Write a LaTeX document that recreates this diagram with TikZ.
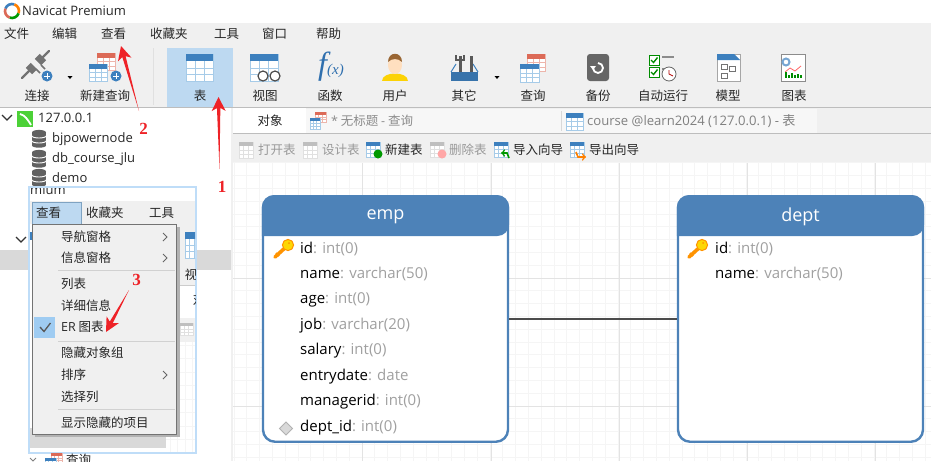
\documentclass[tikz,border=0pt]{standalone}
\usepackage{fontspec}
\setmainfont{Noto Sans CJK SC}
\newfontfamily\latfont{Open Sans}
\newfontfamily\serfont{Liberation Serif}
\usetikzlibrary{calc}

\definecolor{barbg}{HTML}{F0F0F0}
\definecolor{hilite}{HTML}{BDD9F1}
\definecolor{hibox}{HTML}{9FCCF2}
\definecolor{erblue}{HTML}{4D82B8}
\definecolor{tblblue}{HTML}{3D80BE}
\definecolor{tblgrid}{HTML}{A6CBE8}
\definecolor{tblred}{HTML}{DC6A57}
\definecolor{redgrid}{HTML}{EDB5AB}
\definecolor{arrowred}{HTML}{EE2227}
\definecolor{greytxt}{HTML}{A0A0A0}
\definecolor{selband}{HTML}{D9D9D9}
\definecolor{lineg}{HTML}{BDBDBD}
\definecolor{glow}{HTML}{BFDDF8}
\definecolor{mysqlgreen}{HTML}{4CD137}
\definecolor{fxblue}{HTML}{2F6FAE}

\tikzset{
    menutxt/.style={anchor=west, inner sep=0pt, text=black!85, font=\fontsize{12.5}{14}\selectfont},
    tooltxt/.style={anchor=center, inner sep=0pt, text=black!85, font=\fontsize{12.5}{14}\selectfont},
    treetxt/.style={anchor=west, inner sep=0pt, text=black!85, font=\latfont\fontsize{13}{15}\selectfont},
    fieldtxt/.style={anchor=west, inner sep=0pt, text=greytxt, font=\latfont\fontsize{15}{17}\selectfont},
    headtxt/.style={anchor=center, inner sep=0pt, text=white, font=\latfont\fontsize{18}{20}\selectfont},
    erbox/.style={draw=erblue, line width=2.4pt, fill=white, rounded corners=12pt, inner sep=0pt,
        minimum width=245pt, minimum height=245.5pt},
    steplabel/.style={anchor=center, inner sep=0pt, text=arrowred, font=\serfont\bfseries\fontsize{17}{18}\selectfont},
}

% table icon: left, top, width, height, head colour, grid colour
\newcommand{\tblicon}[6]{
    \fill[white] (#1,#2) rectangle ++(#3,#4);
    \draw[#6, line width=.7pt] (#1,#2) rectangle ++(#3,#4);
    \foreach \k in {1,2} {
        \draw[#6, line width=.7pt] ({#1+\k*#3/3},#2) -- ++(0,#4);
        \draw[#6, line width=.7pt] (#1,{#2+#4*.27+\k*#4*.73/3}) -- ++(#3,0);
    }
    \fill[#5] (#1,#2) rectangle ++(#3,{#4*.27});
}
\newcommand{\plusdisc}[3]{
    \fill[#3] (#1,#2) circle (5.5);
    \draw[white, line width=1pt] ({#1-3},#2) -- ({#1+3},#2) ({#1},{#2-3}) -- ({#1},{#2+3});
}
\newcommand{\dbicon}[2]{
    \fill[black!62] (#1,{#2-6.5}) ellipse (7 and 2.6);
    \fill[black!62] ({#1-7},{#2-6.5}) rectangle ({#1+7},{#2+6.5});
    \fill[black!62] (#1,{#2+6.5}) ellipse (7 and 2.2);
    \draw[white, line width=.9pt] ({#1-7},{#2-3}) arc (180:360:7 and -2);
    \draw[white, line width=.9pt] ({#1-7},{#2+2}) arc (180:360:7 and -2);
}
\newcommand{\keyicon}[2]{
    \draw[orange!85!yellow, line width=3.6pt, line cap=round] ({#1+3},{#2-1}) -- ({#1-8},{#2+9});
    \draw[orange!85!yellow, line width=2pt] ({#1-7},{#2+5}) -- ({#1-4},{#2+8});
    \fill[yellow!75!orange, draw=orange!85!yellow, line width=1pt] ({#1+5},{#2-3}) circle (5.6);
    \fill[orange!85!yellow] ({#1+6},{#2-5}) circle (1);
}
\newcommand{\menuchev}[2]{
    \draw[black!60, line width=.9pt] ({#1-2},{#2-4}) -- ({#1+2},#2) -- ({#1-2},{#2+4});
}
\newcommand{\downchev}[2]{
    \draw[black!80, line width=1.4pt] ({#1-5},{#2-3}) -- (#1,{#2+2}) -- ({#1+5},{#2-3});
}
% red hand drawn arrow: tail, tip
\newcommand{\handarrow}[2]{
    \fill[arrowred] (#2) -- ($(#2)!14pt!(#1)!7pt!90:(#1)$) -- ($(#2)!11pt!(#1)!1.7pt!90:(#1)$) -- (#1)
        -- ($(#2)!11pt!(#1)!-1.7pt!90:(#1)$) -- ($(#2)!14pt!(#1)!-7pt!90:(#1)$) -- cycle;
}

\begin{document}
\begin{tikzpicture}[x=1pt, y=-1pt]
    \useasboundingbox (0,0) rectangle (931,461);
    \clip (0,0) rectangle (931,461);

    % Window bars
    \fill[white] (0,0) rectangle (931,461);
    \fill[barbg] (0,23) rectangle (931,107);
    \fill[barbg] (231,108) rectangle (931,163);
    \fill[hilite] (167,48) rectangle (233,107);
    \draw[black!12] (153,48) -- (153,105);
    \draw[lineg, line width=.8pt] (0,107.5) -- (931,107.5);
    \draw[lineg, line width=.8pt] (232,133.5) -- (931,133.5);
    \fill[white] (232,108) rectangle (306,133);
    \fill[black!3] (306,109) rectangle (817,132.5);
    \draw[black!15] (561,111) -- (561,131);

    % Title
    \foreach \col/\from in {tblblue/200, orange/290, green!60!black/20, tblred/110} {
        \draw[\col, line width=2.6pt] (12,11) ++(\from:7) arc (\from:\from+90:7);
    }
    \node[treetxt] (title) at (22,11) {Navicat Premium};

    % Menu bar
    \foreach \txt/\xpos/\nm in {文件/4/mfile, 编辑/52/medit, 查看/101/mview, 收藏夹/150/mfav, 工具/214/mtool, 窗口/262/mwin, 帮助/316/mhelp} {
        \node[menutxt] (\nm) at (\xpos,34) {\txt};
    }

    % Main toolbar labels
    \foreach \txt/\xpos/\nm in {连接/37/tconn, 新建查询/105/tnew, 表/200/ttab, 视图/265/tview, 函数/330/tfun, 用户/395/tuser, 其它/464/tother, 查询/533/tquery, 备份/598/tback, 自动运行/663/tauto, 模型/728/tmodel, 图表/794/tchart} {
        \node[tooltxt] (\nm) at (\xpos,96) {\txt};
    }

    % Main toolbar icons
    \draw[black!55, line width=9pt] (29,71) -- (34,66);
    \draw[black!55, line width=9pt] (38,62) -- (43,57);
    \draw[black!55, line width=2.4pt, line cap=round] (22,78) -- (29,71) (43,57) -- (49,51);
    \draw[black!55, line width=1.6pt] (36,69) -- (40,73) (41,65) -- (45,69);
    \plusdisc{47}{76}{tblblue}
    \tblicon{97}{53}{18}{17}{tblred}{redgrid}
    \tblicon{89}{64}{18}{17}{tblblue}{tblgrid}
    \plusdisc{116}{76}{tblblue}
    \fill[black] (67.5,76) -- (72.5,76) -- (70,79) -- cycle;
    \tblicon{186}{54}{27}{27}{tblblue}{tblgrid}
    \tblicon{250}{54}{28}{27}{tblblue}{tblgrid}
    \fill[white, draw=black!70, line width=1.2pt] (263,76) circle (5) (275,76) circle (5);
    \node[anchor=center, inner sep=0pt, text=fxblue, font=\serfont\itshape] (fxicon) at (331,67) {{\fontsize{32}{32}\selectfont f}{\fontsize{15}{15}\selectfont(x)}};
    \fill[yellow!70!orange] (382,81) .. controls (382,71) and (408,71) .. (408,81) -- cycle;
    \fill[orange!25] (395,65) ellipse (7 and 9);
    \fill[brown!80!black] (388,62) .. controls (388,51) and (402,51) .. (402,62) .. controls (398,58) and (392,58) .. (388,62) -- cycle;
    \fill[tblblue!90!black] (451,72) rectangle (478,81);
    \draw[tblblue, line width=1pt] (451,72) -- (456,64) (478,72) -- (473,64);
    \draw[black!65, line width=3pt] (460,56) -- (460,72);
    \draw[black!65, line width=3pt] (471,56) -- (471,72);
    \draw[black!65, line width=2pt] (456,55) -- (456,60) -- (464,60) -- (464,55);
    \fill[black] (494.5,76) -- (499.5,76) -- (497,79) -- cycle;
    \tblicon{527}{54}{18}{17}{tblred}{redgrid}
    \tblicon{520}{64}{19}{18}{tblblue}{tblgrid}
    \fill[black!60, rounded corners=3pt] (587,54) rectangle (609,81);
    \draw[white, line width=1.8pt] (593,68) arc (180:-90:5);
    \fill[white] (590,66) -- (596,66) -- (593,70) -- cycle;
    \foreach \yy in {55,67} {
        \draw[green!55!black, fill=white, line width=.8pt] (649,\yy) rectangle ++(10,10);
        \draw[green!55!black, line width=1.4pt] (651,\yy+5) -- (653.5,\yy+7.5) -- (657.5,\yy+2.5);
        \draw[black!45, line width=1.2pt] (662,\yy+2) -- (674,\yy+2);
    }
    \fill[white, draw=black!60, line width=.8pt] (669,74) circle (7);
    \draw[red!70!black, line width=.8pt] (669,70) -- (669,74) -- (673,76);
    \fill[white, draw=black!35] (717,54) rectangle (740,81);
    \fill[tblblue] (717,54) -- (734,54) -- (740,60) -- (717,60) -- cycle;
    \foreach \xx/\yy in {721/64, 729/66, 721/73} {
        \draw[black!55, line width=.7pt] (\xx,\yy) rectangle ++(6,5);
    }
    \fill[white, draw=black!45, line width=1pt] (781,54) rectangle (805,81);
    \draw[tblblue!70, line width=2pt] (786,62) circle (3.5);
    \draw[red!60, line width=.8pt] (785,72) -- (790,68) -- (795,71) -- (801,66);
    \foreach \xx/\hh in {785/6, 788/3, 791/5, 794/3, 797/4, 800/3} {
        \fill[green!55!black] (\xx,78) rectangle ++(1.5,-\hh);
    }

    % Tab strip
    \node[tooltxt] (tabobj) at (270,121) {对象};
    \tblicon{315}{112}{11}{10}{tblred}{redgrid}
    \tblicon{310}{118}{10}{11}{tblblue}{tblgrid}
    \node[menutxt, text=black!45] (tabquery) at (331,121) {{\latfont *} 无标题 {\latfont -} 查询};
    \tblicon{566}{113}{17}{17}{tblblue}{tblgrid}
    \node[menutxt, text=black!50, font=\latfont\fontsize{13.1}{15}\selectfont] (tabcourse) at (587,121) {course @learn2024 (127.0.0.1) - {\rmfamily 表}};

    % Second toolbar
    \foreach \txt/\xpos/\nm/\col in {打开表/258/bopen/black!40, 设计表/322/bdesign/black!40, 新建表/385/bnew/black!85, 删除表/449/bdel/black!40, 导入向导/513/bimp/black!85, 导出向导/589/bexp/black!85} {
        \node[menutxt, text=\col] (\nm) at (\xpos,150) {\txt};
    }
    \tblicon{239}{142}{14}{16}{black!25}{black!12}
    \tblicon{303}{142}{14}{16}{black!25}{black!12}
    \tblicon{366}{142}{14}{15}{tblblue}{tblgrid}
    \fill[green!60!black] (378,154) circle (4.5);
    \tblicon{430}{142}{14}{15}{black!25}{black!12}
    \fill[red!35] (442,154) circle (4.5);
    \tblicon{494}{142}{14}{15}{tblblue}{tblgrid}
    \draw[green!60!black, line width=1.6pt, ->] (509,158) -- (507,153) -- (501,153);
    \tblicon{570}{142}{14}{15}{tblblue}{tblgrid}
    \draw[orange, line width=1.6pt, ->] (576,152) -- (578,157) -- (586,157);

    % Canvas grid
    \fill[white] (233,163) rectangle (931,461);
    \foreach \i in {0,...,55} {
        \pgfmathsetmacro{\gridx}{234+12.8*\i}
        \draw[black!4, line width=.8pt] (\gridx,163) -- (\gridx,461);
    }
    \foreach \j in {0,...,23} {
        \pgfmathsetmacro{\gridy}{162.8+12.8*\j}
        \draw[black!4, line width=.8pt] (233,\gridy) -- (931,\gridy);
    }
    \foreach \gridx in {362,491,619,747,875} {
        \draw[black!11, line width=.8pt] (\gridx,163) -- (\gridx,461);
    }
    \foreach \gridy in {278,406} {
        \draw[black!11, line width=.8pt] (233,\gridy) -- (931,\gridy);
    }

    % Navigation tree
    \fill[barbg] (231,108) rectangle (233,461);
    \fill[selband] (0,250) rectangle (231,270);
    \downchev{7}{118}
    \downchev{21}{240}
    \fill[mysqlgreen] (17,111) rectangle (33,127);
    \draw[white, line width=1.8pt] (20,114) .. controls (25,115) and (28,120) .. (31,125);
    \node[treetxt] (conn) at (38,118) {127.0.0.1};
    \foreach \yy/\txt/\nm in {139/bjpowernode/dba, 159/db\_course\_jlu/dbb, 178/demo/dbc} {
        \dbicon{39}{\yy}
        \node[treetxt] (\nm) at (52,\yy) {\txt};
    }

    % ER tables
    \node[erbox] (emp) at (385.5,319) {};
    \node[erbox] (dept) at (800.5,319) {};
    \draw[black!70, line width=1.2pt] (emp.east) -- (dept.west);
    \foreach \ent in {emp, dept} {
        \fill[erblue, rounded corners=12pt] (\ent.north west) -- (\ent.north east) -- ($(\ent.north east)+(0,41)$) [sharp corners] -- ($(\ent.north west)+(0,41)$) [rounded corners=12pt] -- cycle;
    }
    \node[headtxt] (emphead) at (emp.north |- 0,217) {emp};
    \node[headtxt] (depthead) at (dept.north |- 0,217) {dept};
    \foreach \fld/\typ [count=\n from 0] in {id/int(0), name/varchar(50), age/int(0), job/varchar(20), salary/int(0), entrydate/date, managerid/int(0), dept\_id/int(0)} {
        \node[fieldtxt] (empf\n) at (300,248.5+25.55*\n) {\textcolor{black}{\fld}: \typ};
    }
    \foreach \fld/\typ [count=\n from 0] in {id/int(0), name/varchar(50)} {
        \node[fieldtxt] (deptf\n) at (715,248.5+25.55*\n) {\textcolor{black}{\fld}: \typ};
    }
    \keyicon{283}{248}
    \keyicon{697}{248}
    \fill[black!15, draw=black!30, line width=.8pt] (286,422) -- (292.5,428.5) -- (286,435) -- (279.5,428.5) -- cycle;

    % Pasted menu screenshot
    \draw[glow, line width=4pt] (30,188) rectangle (195,452);
    \begin{scope}
        \clip (30,188) rectangle (195,452);
        \fill[white] (30,188) rectangle (195,452);
        \node[treetxt] (oldtitle) at (30,190) {mium};
        \fill[barbg] (30,201) rectangle (195,224);
        \fill[barbg] (177,224) rectangle (195,285);
        \fill[barbg] (166,318) rectangle (195,342);
        \draw[black!20] (177,285) -- (195,285);
        \fill[selband] (30,428) rectangle (166,448);
        \foreach \i in {0,...,3} {
            \draw[black!4, line width=.8pt] (170+7.5*\i,342) -- (170+7.5*\i,452);
        }
        \foreach \j in {0,...,7} {
            \draw[black!4, line width=.8pt] (166,345+13.5*\j) -- (195,345+13.5*\j);
        }
        \tblicon{185}{232}{14}{26}{tblblue}{tblgrid}
        \fill[tblblue] (30,232) rectangle (32,240);
        \node[tooltxt] (oldview) at (191,275) {视};
        \node[tooltxt] (oldobj) at (199,300) {对};
        \tblicon{180}{323}{13}{12}{black!25}{black!12}
    \end{scope}

    % Menu header
    \fill[hilite, draw=hibox!80!black, line width=.6pt] (32,202) rectangle (81,224);
    \foreach \txt/\xpos/\nm in {查看/36/pview, 收藏夹/86/pfav, 工具/149/ptool} {
        \node[menutxt] (\nm) at (\xpos,213) {\txt};
    }

    % Drop down menu
    \fill[black!30] (35,227) rectangle (179.5,436.5);
    \fill[barbg, draw=black!55, line width=.8pt] (32.5,224.5) rectangle (176.5,434);
    \fill[hibox] (34,317) rectangle (55,338);
    \draw[black!65, line width=1.3pt] (40,327) -- (44,331.5) -- (50.5,323);
    \foreach \yy in {270,341,409} {
        \draw[black!18, line width=.8pt] (58,\yy) -- (175,\yy);
    }
    \foreach \txt/\yy/\nm in {导航窗格/237/ia, 信息窗格/258/ib, 列表/284/ic, 详细信息/306/id, {{\latfont ER} 图表}/327/ie, 隐藏对象组/353/ig, 排序/375/ih, 选择列/397/ii, 显示隐藏的项目/423/ij} {
        \node[menutxt] (\nm) at (61,\yy) {\txt};
    }
    \foreach \yy in {237,258,375} {
        \menuchev{165}{\yy}
    }

    % Tree row below the screenshot
    \draw[black!50, line width=.8pt] (30,458) -- (33,461) -- (36,458);
    \tblicon{51}{453}{11}{10}{tblred}{redgrid}
    \tblicon{45}{458}{11}{10}{tblblue}{tblgrid}
    \node[menutxt] (treequery) at (66,460) {查询};

    % Red arrows
    \coordinate (tailone) at (219.5,169);
    \coordinate (tipone) at (218.5,97);
    \coordinate (tailtwo) at (139,111);
    \coordinate (tiptwo) at (121,46);
    \coordinate (tailthree) at (129,290);
    \coordinate (tipthree) at (106,332);
    \handarrow{tailone}{tipone}
    \handarrow{tailtwo}{tiptwo}
    \handarrow{tailthree}{tipthree}
    \node[steplabel] (stepone) at (222,187) {1};
    \node[steplabel] (steptwo) at (143.5,129) {2};
    \node[steplabel] (stepthree) at (136.5,280) {3};
\end{tikzpicture}
\end{document}
